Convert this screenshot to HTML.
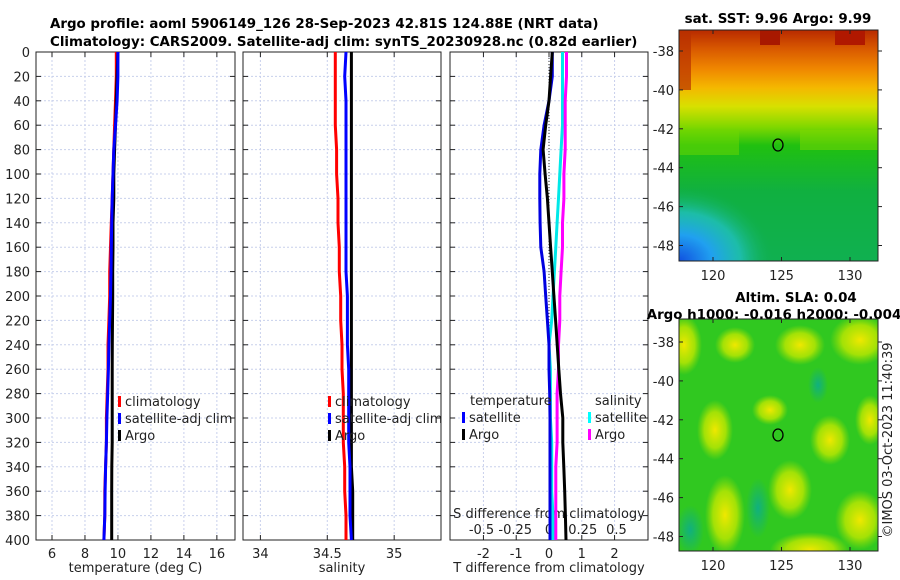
<!DOCTYPE html>
<html><head><meta charset="utf-8">
<style>
body{margin:0;background:#fff;}
svg{display:block;font-family:"DejaVu Sans","Liberation Sans",sans-serif;}
.t{font-size:13px;fill:#222}
.b{font-size:13.4px;font-weight:bold;fill:#000}
</style></head><body>
<svg id="c" width="900" height="580" viewBox="0 0 900 580">
<defs>
<linearGradient id="sstg" x1="0" y1="0" x2="0" y2="1">
<stop offset="0" stop-color="#b82a00"/><stop offset="0.08" stop-color="#d85800"/>
<stop offset="0.17" stop-color="#f08800"/><stop offset="0.25" stop-color="#f4b800"/>
<stop offset="0.33" stop-color="#d8e000"/><stop offset="0.42" stop-color="#80d800"/>
<stop offset="0.5" stop-color="#20c010"/><stop offset="0.7" stop-color="#10b040"/>
<stop offset="1" stop-color="#10b050"/></linearGradient>
<radialGradient id="blue"><stop offset="0" stop-color="#1050e0"/><stop offset="0.35" stop-color="#20a0f0"/><stop offset="0.65" stop-color="#20c0c0" stop-opacity="0.8"/><stop offset="1" stop-color="#10b050" stop-opacity="0"/></radialGradient>
<radialGradient id="yb"><stop offset="0" stop-color="#f0e800"/><stop offset="0.6" stop-color="#c0e800" stop-opacity="0.8"/><stop offset="1" stop-color="#a0e000" stop-opacity="0"/></radialGradient>
<radialGradient id="tb"><stop offset="0" stop-color="#10b080"/><stop offset="1" stop-color="#10b080" stop-opacity="0"/></radialGradient>
<clipPath id="m1c"><rect x="679" y="30" width="199" height="231"/></clipPath>
<clipPath id="m2c"><rect x="679" y="319" width="199" height="232"/></clipPath>
</defs>
<text class="b" x="50" y="28">Argo profile: aoml 5906149_126 28-Sep-2023 42.81S 124.88E (NRT data)</text>
<text class="b" x="50" y="46">Climatology: CARS2009. Satellite-adj clim: synTS_20230928.nc (0.82d earlier)</text>
<g id="panels"></g>

<text class="b" x="778" y="23" text-anchor="middle">sat. SST: 9.96 Argo: 9.99</text>
<g clip-path="url(#m1c)">
<rect x="679" y="30" width="199" height="231" fill="url(#sstg)"/>
<rect x="679" y="30" width="12" height="60" fill="#b83000" opacity="0.7"/>
<rect x="760" y="30" width="20" height="15" fill="#a81800"/>
<rect x="835" y="30" width="30" height="15" fill="#b01800"/>
<rect x="679" y="130" width="60" height="25" fill="#70d800" opacity="0.5"/>
<rect x="800" y="130" width="78" height="20" fill="#80d800" opacity="0.5"/>
<ellipse cx="679" cy="261" rx="95" ry="75" fill="url(#blue)"/>
</g>
<rect x="679" y="30" width="199" height="231" fill="none" stroke="#222"/>
<ellipse cx="778" cy="145" rx="5" ry="6" fill="none" stroke="#000" stroke-width="1.3"/>

<text class="b" x="796" y="302" text-anchor="middle">Altim. SLA: 0.04</text>
<text class="b" x="774" y="319" text-anchor="middle">Argo h1000: -0.016 h2000: -0.004</text>
<g clip-path="url(#m2c)">
<rect x="679" y="319" width="199" height="232" fill="#30c820"/>
<ellipse cx="684" cy="345" rx="18" ry="30" fill="url(#yb)"/>
<ellipse cx="735" cy="345" rx="20" ry="18" fill="url(#yb)"/>
<ellipse cx="800" cy="345" rx="25" ry="20" fill="url(#yb)"/>
<ellipse cx="860" cy="340" rx="30" ry="25" fill="url(#yb)"/>
<ellipse cx="715" cy="430" rx="18" ry="30" fill="url(#yb)"/>
<ellipse cx="770" cy="410" rx="18" ry="15" fill="url(#yb)"/>
<ellipse cx="830" cy="440" rx="20" ry="25" fill="url(#yb)"/>
<ellipse cx="870" cy="420" rx="15" ry="25" fill="url(#yb)"/>
<ellipse cx="725" cy="515" rx="20" ry="40" fill="url(#yb)"/>
<ellipse cx="790" cy="490" rx="22" ry="30" fill="url(#yb)"/>
<ellipse cx="810" cy="550" rx="40" ry="18" fill="url(#yb)"/>
<ellipse cx="860" cy="520" rx="25" ry="30" fill="url(#yb)"/>
<ellipse cx="758" cy="508" rx="12" ry="30" fill="url(#tb)"/>
<ellipse cx="690" cy="530" rx="14" ry="25" fill="url(#tb)"/>
<ellipse cx="818" cy="385" rx="10" ry="18" fill="url(#tb)"/>
</g>
<rect x="679" y="319" width="199" height="232" fill="none" stroke="#222"/>
<ellipse cx="778" cy="435" rx="5" ry="6" fill="none" stroke="#000" stroke-width="1.3"/>
<text class="t" transform="translate(892,440) rotate(-90)" text-anchor="middle">©IMOS 03-Oct-2023 11:40:39</text>
<g id="mapaxes"></g>
</svg>
<script>
const depths=[0,20,40,60,80,100,120,140,160,180,200,220,240,260,280,300,320,340,360,380,400];
const tClim=[9.9,9.9,9.85,9.8,9.75,9.7,9.65,9.6,9.55,9.5,9.5,9.45,9.4,9.4,9.35,9.3,9.3,9.25,9.2,9.2,9.15];
const tSat=[10.0,10.0,9.95,9.85,9.75,9.7,9.65,9.62,9.6,9.58,9.55,9.5,9.45,9.42,9.38,9.33,9.3,9.25,9.22,9.2,9.15];
const tArgo=[10.0,9.95,9.9,9.85,9.8,9.75,9.75,9.7,9.7,9.68,9.68,9.67,9.66,9.65,9.65,9.65,9.65,9.63,9.62,9.62,9.62];
const sClim=[34.56,34.56,34.56,34.56,34.57,34.57,34.58,34.58,34.59,34.59,34.6,34.6,34.61,34.61,34.62,34.62,34.62,34.63,34.63,34.64,34.64];
const sSat=[34.64,34.63,34.64,34.64,34.64,34.64,34.64,34.64,34.64,34.64,34.65,34.65,34.65,34.66,34.66,34.66,34.66,34.67,34.67,34.67,34.68];
const sArgo=[34.68,34.68,34.68,34.68,34.68,34.68,34.68,34.68,34.68,34.68,34.68,34.68,34.68,34.68,34.68,34.68,34.68,34.68,34.69,34.69,34.69];
const dTSat=[0.1,0.1,0.0,-0.15,-0.25,-0.28,-0.28,-0.27,-0.25,-0.15,-0.1,-0.05,0,0,0.02,0.03,0.03,0.03,0.03,0.03,0.03];
const dTArgo=[0.1,0.05,0.0,-0.1,-0.18,-0.12,-0.05,0.0,0.05,0.1,0.15,0.2,0.25,0.3,0.35,0.42,0.42,0.45,0.48,0.5,0.52];
const dSSat=[0.1,0.1,0.1,0.1,0.09,0.08,0.07,0.06,0.05,0.04,0.03,0.02,0.0,0.01,0.01,0.01,0.02,0.02,0.02,0.03,0.03];
const dSArgo=[0.13,0.13,0.12,0.12,0.12,0.11,0.11,0.1,0.1,0.09,0.08,0.08,0.07,0.07,0.06,0.06,0.06,0.05,0.05,0.05,0.05];
const depthTicks=[0,20,40,60,80,100,120,140,160,180,200,220,240,260,280,300,320,340,360,380,400];
const tTicks=[6,8,10,12,14,16], sTicks=[34,34.5,35], dTTicks=[-2,-1,0,1,2], dSTicks=[-0.5,-0.25,0,0.25,0.5];
const dSTickLabels=['-0.5','-0.25','0','0.25','0.5'];
const lonTicks=[120,125,130], latTicks=[-38,-40,-42,-44,-46,-48];
const NS='http://www.w3.org/2000/svg';
const root=document.getElementById('panels');
function mk(tag,at,par){const e=document.createElementNS(NS,tag);for(const k in at)e.setAttribute(k,at[k]);(par||root).appendChild(e);return e;}
const yTop=52,yBot=540;
const Y=d=>yTop+(d/400)*(yBot-yTop);
function panel(x0,x1,lo,hi,ticks,xlabel,name,showY){
  const X=v=>x0+(v-lo)/(hi-lo)*(x1-x0);
  const g=mk('g',{});
  
  
  depthTicks.forEach(d=>{mk('line',{x1:x0,x2:x1,y1:Y(d),y2:Y(d),stroke:'#c8d0ec','stroke-dasharray':'2,2'},g);
    mk('line',{x1:x0,x2:x0+5,y1:Y(d),y2:Y(d),stroke:'#222'},g);mk('line',{x1:x1-5,x2:x1,y1:Y(d),y2:Y(d),stroke:'#222'},g);
    if(showY){const t=mk('text',{x:x0-6,y:Y(d)+5,'text-anchor':'end',class:'t'},g);t.textContent=d;}});
  ticks.forEach(v=>{mk('line',{x1:X(v),x2:X(v),y1:yTop,y2:yBot,stroke:'#c8d0ec','stroke-dasharray':'2,2'},g);
    mk('line',{x1:X(v),x2:X(v),y1:yBot-5,y2:yBot,stroke:'#222'},g);mk('line',{x1:X(v),x2:X(v),y1:yTop,y2:yTop+5,stroke:'#222'},g);
    const t=mk('text',{x:X(v),y:yBot+18,'text-anchor':'middle',class:'t'},g);t.textContent=v;});
  mk('rect',{x:x0,y:yTop,width:x1-x0,height:yBot-yTop,fill:'none',stroke:'#222'},g);
  const xl=mk('text',{x:(x0+x1)/2,y:yBot+32,'text-anchor':'middle',class:'t'},g);xl.textContent=xlabel;
  return {X,g};
}
function line(p,X,vals,col,name){
  const pts=vals.map((v,i)=>X(v).toFixed(1)+','+Y(depths[i]).toFixed(1)).join(' ');
  const e=mk('polyline',{points:pts,fill:'none',stroke:col,'stroke-width':3},p);
  
  
}
function legend(g,x,y,items){items.forEach((it,i)=>{
  mk('rect',{x:x,y:y+i*17-10,width:3,height:11,fill:it[1]},g);
  const t=mk('text',{x:x+7,y:y+i*17,class:'t'},g);t.textContent=it[0];});}
const p1=panel(36,235,5.03,17.1,tTicks,'temperature (deg C)','temperature-panel',true);
line(p1.g,p1.X,tClim,'#ff0000','temp-climatology-line');line(p1.g,p1.X,tArgo,'#000','temp-argo-line');line(p1.g,p1.X,tSat,'#0000ff','temp-satellite-line');
legend(p1.g,118,406,[['climatology','#f00'],['satellite-adj clim','#00f'],['Argo','#000']]);
const p2=panel(243,441,33.87,35.35,sTicks,'salinity','salinity-panel',false);
line(p2.g,p2.X,sClim,'#ff0000','sal-climatology-line');line(p2.g,p2.X,sArgo,'#000','sal-argo-line');line(p2.g,p2.X,sSat,'#0000ff','sal-satellite-line');
legend(p2.g,328,406,[['climatology','#f00'],['satellite-adj clim','#00f'],['Argo','#000']]);
const p3=panel(450,648,-3.02,3.02,dTTicks,'T difference from climatology','difference-panel',false);
const XS=v=>549+v*135;
dSTicks.forEach((v,i)=>{const t=mk('text',{x:XS(v),y:534,'text-anchor':'middle',class:'t'},p3.g);t.textContent=dSTickLabels[i];});
const sl=mk('text',{x:549,y:518,'text-anchor':'middle',class:'t'},p3.g);sl.textContent='S difference from climatology';
mk('line',{x1:p3.X(0),x2:p3.X(0),y1:yTop,y2:yBot,stroke:'#333','stroke-dasharray':'1,2'},p3.g);
line(p3.g,XS,dSSat,'#00e8e8','sal-diff-satellite-line');line(p3.g,XS,dSArgo,'#ff00ff','sal-diff-argo-line');
line(p3.g,p3.X,dTSat,'#0000e0','temp-diff-satellite-line');line(p3.g,p3.X,dTArgo,'#000','temp-diff-argo-line');
const lt=mk('text',{x:470,y:405,class:'t'},p3.g);lt.textContent='temperature';
const ls=mk('text',{x:595,y:405,class:'t'},p3.g);ls.textContent='salinity';
legend(p3.g,462,422,[['satellite','#00f'],['Argo','#000']]);
legend(p3.g,588,422,[['satellite','#0ff'],['Argo','#f0f']]);
const ma=document.getElementById('mapaxes');
function mapAxes(y0,y1,lat38){
  lonTicks.forEach(v=>{const x=713+(v-120)*13.7;mk('line',{x1:x,x2:x,y1:y1-4,y2:y1,stroke:'#222'},ma);mk('line',{x1:x,x2:x,y1:y0,y2:y0+4,stroke:'#222'},ma);
    const t=mk('text',{x:x,y:y1+19,'text-anchor':'middle',class:'t'},ma);t.textContent=v;});
  latTicks.forEach(v=>{const y=lat38+(-38-v)*19.45;mk('line',{x1:878,x2:882,y1:y,y2:y,stroke:'#222'},ma);mk('line',{x1:679,x2:683,y1:y,y2:y,stroke:'#222'},ma);
    const t=mk('text',{x:674,y:y+5,'text-anchor':'end',class:'t'},ma);t.textContent=v;});
}
mapAxes(30,261,51);mapAxes(319,551,342);
</script>
</body></html>
